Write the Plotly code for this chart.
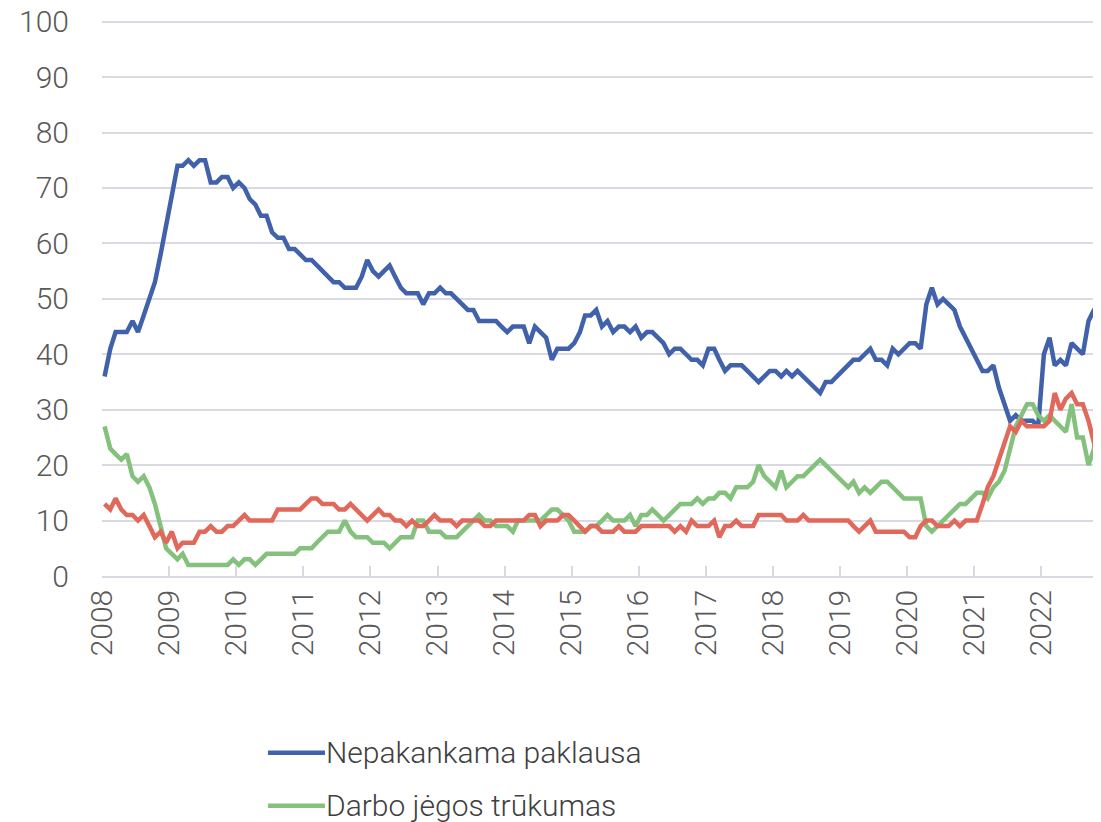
import pandas as pd
import plotly.graph_objects as go

# Monthly data, Jan 2008 - Nov 2022
start_month = "2008-01-01"
n_months = 179

blue_name = "Nepakankama paklausa"
green_name = "Darbo jėgos trūkumas"
red_name = "Kiti veiksniai"

blue_vals = [
    36, 41, 44, 44, 44, 46, 44, 47, 50, 53, 58, 63,   # 2008
    69, 74, 74, 75, 74, 75, 75, 71, 71, 72, 72, 70,   # 2009
    71, 70, 68, 67, 65, 65, 62, 61, 61, 59, 59, 58,   # 2010
    57, 57, 56, 55, 54, 53, 53, 52, 52, 52, 54, 57,   # 2011
    55, 54, 55, 56, 54, 52, 51, 51, 51, 49, 51, 51,   # 2012
    52, 51, 51, 50, 49, 48, 48, 46, 46, 46, 46, 45,   # 2013
    44, 45, 45, 45, 42, 45, 44, 43, 39, 41, 41, 41,   # 2014
    42, 44, 47, 47, 48, 45, 46, 44, 45, 45, 44, 45,   # 2015
    43, 44, 44, 43, 42, 40, 41, 41, 40, 39, 39, 38,   # 2016
    41, 41, 39, 37, 38, 38, 38, 37, 36, 35, 36, 37,   # 2017
    37, 36, 37, 36, 37, 36, 35, 34, 33, 35, 35, 36,   # 2018
    37, 38, 39, 39, 40, 41, 39, 39, 38, 41, 40, 41,   # 2019
    42, 42, 41, 49, 52, 49, 50, 49, 48, 45, 43, 41,   # 2020
    39, 37, 37, 38, 34, 31, 28, 29, 28, 28, 28, 27,   # 2021
    40, 43, 38, 39, 38, 42, 41, 40, 46, 48, 49,       # 2022
]

green_vals = [
    27, 23, 22, 21, 22, 18, 17, 18, 16, 13, 9, 5,     # 2008
    4, 3, 4, 2, 2, 2, 2, 2, 2, 2, 2, 3,               # 2009
    2, 3, 3, 2, 3, 4, 4, 4, 4, 4, 4, 5,               # 2010
    5, 5, 6, 7, 8, 8, 8, 10, 8, 7, 7, 7,              # 2011
    6, 6, 6, 5, 6, 7, 7, 7, 10, 10, 8, 8,             # 2012
    8, 7, 7, 7, 8, 9, 10, 11, 10, 10, 9, 9,           # 2013
    9, 8, 10, 10, 10, 10, 10, 11, 12, 12, 11, 10,     # 2014
    8, 8, 8, 9, 9, 10, 11, 10, 10, 10, 11, 9,         # 2015
    11, 11, 12, 11, 10, 11, 12, 13, 13, 13, 14, 13,   # 2016
    14, 14, 15, 15, 14, 16, 16, 16, 17, 20, 18, 17,   # 2017
    16, 19, 16, 17, 18, 18, 19, 20, 21, 20, 19, 18,   # 2018
    17, 16, 17, 15, 16, 15, 16, 17, 17, 16, 15, 14,   # 2019
    14, 14, 14, 9, 8, 9, 10, 11, 12, 13, 13, 14,      # 2020
    15, 15, 14, 16, 17, 19, 23, 27, 29, 31, 31, 29,   # 2021
    28, 29, 28, 27, 26, 31, 25, 25, 20, 23, 22,       # 2022
]

red_vals = [
    13, 12, 14, 12, 11, 11, 10, 11, 9, 7, 8, 6,       # 2008
    8, 5, 6, 6, 6, 8, 8, 9, 8, 8, 9, 9,               # 2009
    10, 11, 10, 10, 10, 10, 10, 12, 12, 12, 12, 12,   # 2010
    13, 14, 14, 13, 13, 13, 12, 12, 13, 12, 11, 10,   # 2011
    11, 12, 11, 11, 10, 10, 9, 10, 9, 9, 10, 11,      # 2012
    10, 10, 10, 9, 10, 10, 10, 10, 9, 9, 10, 10,      # 2013
    10, 10, 10, 10, 11, 11, 9, 10, 10, 10, 11, 11,    # 2014
    10, 9, 8, 9, 9, 8, 8, 8, 9, 8, 8, 8,              # 2015
    9, 9, 9, 9, 9, 9, 8, 9, 8, 10, 9, 9,              # 2016
    9, 10, 7, 9, 9, 10, 9, 9, 9, 11, 11, 11,          # 2017
    11, 11, 10, 10, 10, 11, 10, 10, 10, 10, 10, 10,   # 2018
    10, 10, 9, 8, 9, 10, 8, 8, 8, 8, 8, 8,            # 2019
    7, 7, 9, 10, 10, 9, 9, 9, 10, 9, 10, 10,          # 2020
    10, 13, 16, 18, 21, 24, 27, 26, 28, 27, 27, 27,   # 2021
    27, 28, 33, 30, 32, 33, 31, 31, 28, 24, 18,       # 2022
]

y_ticks = [0, 10, 20, 30, 40, 50, 60, 70, 80, 90, 100]

dates = pd.date_range(start_month, periods=n_months, freq="MS") + pd.Timedelta(days=14)

BLUE = "#4162AA"
GREEN = "#84C17D"
RED = "#E0695C"
GRID = "#D9D9E3"
TXT = "#595959"
FONT = "Roboto"

fig = go.Figure()
fig.add_trace(go.Scatter(x=dates, y=blue_vals, mode="lines", name=blue_name,
                         line=dict(color=BLUE, width=4.5)))
fig.add_trace(go.Scatter(x=dates, y=green_vals, mode="lines", name=green_name,
                         line=dict(color=GREEN, width=4.5)))
fig.add_trace(go.Scatter(x=dates, y=red_vals, mode="lines", name=red_name,
                         line=dict(color=RED, width=4.5)))

# manual legend (last entry falls below the visible page in the reference)
legend_items = [(blue_name, BLUE, -0.3177), (green_name, GREEN, -0.4134)]
for name, col, yy in legend_items:
    fig.add_shape(type="line", xref="paper", yref="paper",
                  x0=0.1662, x1=0.2232, y0=yy, y1=yy,
                  line=dict(color=col, width=4.5))
    fig.add_annotation(xref="paper", yref="paper", x=0.2222, y=yy,
                       text=name, showarrow=False, xanchor="left", yanchor="middle",
                       font=dict(family=FONT, size=30, color="#404040", weight=300))

fig.update_layout(
    width=1101, height=822,
    margin=dict(l=94, r=8, t=12, b=254, autoexpand=False),
    paper_bgcolor="white", plot_bgcolor="white",
    font=dict(family=FONT, size=30, color=TXT, weight=300),
    showlegend=False,
    xaxis=dict(
        type="date", automargin=False,
        range=["2008-01-01", "2022-11-22"],
        dtick="M12", tick0="2008-01-01", tickformat="%Y",
        tickangle=-90,
        showgrid=False, zeroline=False,
        showline=True, linecolor=GRID, linewidth=1.5,
        ticks="inside", ticklen=10, tickcolor=GRID, tickwidth=1.5,
        ticklabeloverflow="allow",
        tickfont=dict(family=FONT, size=30, color=TXT, weight=300),
    ),
    yaxis=dict(
        range=[0, 100.3], tickvals=y_ticks, automargin=False,
        showgrid=True, gridcolor=GRID, gridwidth=1.5,
        zeroline=False, showline=False,
        ticks="", ticklabelstandoff=32, ticklabeloverflow="allow",
        tickfont=dict(family=FONT, size=30, color=TXT, weight=300),
    ),
)

fig.write_html("out.html")
